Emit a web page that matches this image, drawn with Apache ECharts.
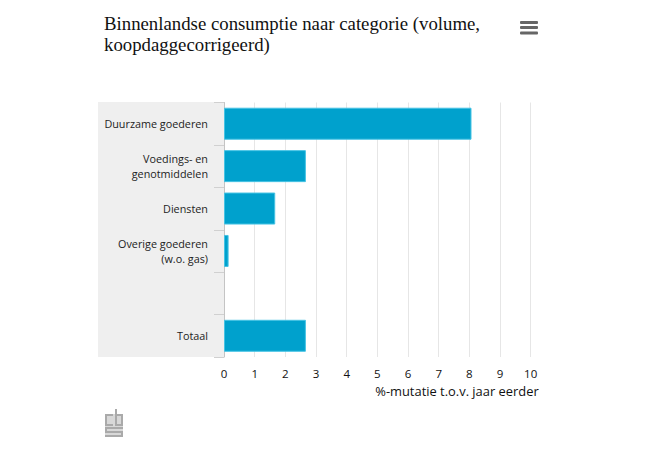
<!DOCTYPE html>
<html>
<head>
<meta charset="utf-8">
<style>html,body{margin:0;padding:0;background:#fff}#c{width:650px;height:450px}</style>
<script src="https://cdn.jsdelivr.net/npm/echarts@6/dist/echarts.min.js"></script>
</head>
<body>
<div id="c"></div>
<script>
const categories = ['Duurzame goederen', 'Voedings- en\ngenotmiddelen', 'Diensten', 'Overige goederen\n(w.o. gas)', '', 'Totaal'];
const values = [8.07, 2.67, 1.67, 0.15, null, 2.67];
const titleText = 'Binnenlandse consumptie naar categorie (volume,\nkoopdaggecorrigeerd)';
const axisName = '%-mutatie t.o.v. jaar eerder';

const chart = echarts.init(document.getElementById('c'), null, {renderer: 'svg'});
const logoColor = '#aaaaaa';
chart.setOption({
  animation: false,
  backgroundColor: '#fff',
  title: {
    text: titleText, left: 104, top: 13, padding: 0,
    textStyle: {fontFamily: 'Liberation Serif', fontSize: 18.8, fontWeight: 'normal', color: '#111', lineHeight: 21}
  },
  grid: {left: 224, top: 102.5, width: 306.7, height: 254.5, containLabel: false},
  xAxis: {
    type: 'value', min: 0, max: 10, interval: 1,
    axisLine: {show: false}, axisTick: {show: false},
    splitLine: {lineStyle: {color: '#e6e6e6', width: 1}},
    axisLabel: {fontFamily: 'Open Sans', fontSize: 11.5, color: '#111', margin: 10},
    name: axisName, nameLocation: 'end', nameGap: 8,
    nameTextStyle: {fontFamily: 'Open Sans', fontSize: 12.9, color: '#111', align: 'right', verticalAlign: 'top', padding: [27, 0, 0, 0]}
  },
  yAxis: {
    type: 'category', data: categories, inverse: true,
    axisLine: {show: true, lineStyle: {color: '#c4c4c4', width: 1}},
    axisTick: {show: true, length: 10, lineStyle: {color: '#d0d0d0'}},
    axisLabel: {fontFamily: 'Open Sans', fontSize: 10.8, color: '#222', margin: 16, lineHeight: 15, align: 'right'}
  },
  series: [{
    type: 'bar', data: values, barWidth: 32,
    itemStyle: {color: '#00a1cd', borderColor: '#45c3e4', borderWidth: 1}
  }],
  graphic: [
    {type: 'rect', z: -10, shape: {x: 98, y: 102, width: 126, height: 255}, style: {fill: '#efefef'}},
    {type: 'rect', shape: {x: 520, y: 21, width: 18, height: 3, r: 1}, style: {fill: '#666'}},
    {type: 'rect', shape: {x: 520, y: 26, width: 18, height: 3, r: 1}, style: {fill: '#666'}},
    {type: 'rect', shape: {x: 520, y: 31.5, width: 18, height: 3, r: 1}, style: {fill: '#666'}},
    {type: 'rect', shape: {x: 105, y: 414, width: 18, height: 23}, style: {fill: '#d8d8d8'}},
    {type: 'polyline', shape: {points: [[113, 415], [106, 415], [106, 425], [113, 425]]}, style: {fill: 'none', stroke: logoColor, lineWidth: 2}},
    {type: 'polyline', shape: {points: [[116, 409], [116, 425], [122, 425], [122, 415], [116, 415]]}, style: {fill: 'none', stroke: logoColor, lineWidth: 2}},
    {type: 'polyline', shape: {points: [[123, 428], [106, 428], [106, 432], [122, 432], [122, 436], [105, 436]]}, style: {fill: 'none', stroke: logoColor, lineWidth: 2}}
  ]
});
</script>
</body>
</html>
